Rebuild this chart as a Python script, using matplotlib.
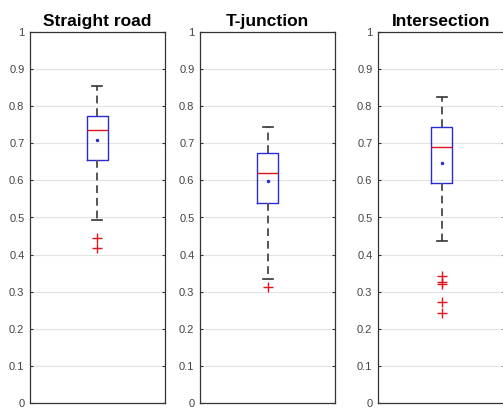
import matplotlib
matplotlib.use("Agg")
import matplotlib.pyplot as plt

plt.rcParams['font.family'] = ['Liberation Sans', 'DejaVu Sans']

titles = ["Straight road", "T-junction", "Intersection"]
whislo = [0.493, 0.333, 0.436]
q1 = [0.655, 0.538, 0.593]
med = [0.737, 0.619, 0.690]
q3 = [0.773, 0.675, 0.744]
whishi = [0.854, 0.744, 0.824]
means = [0.709, 0.598, 0.646]
fliers = [[0.444, 0.417], [0.313], [0.343, 0.327, 0.321, 0.271, 0.243]]
yticks = [0, 0.1, 0.2, 0.3, 0.4, 0.5, 0.6, 0.7, 0.8, 0.9, 1.0]
yticklabels = ["0", "0.1", "0.2", "0.3", "0.4", "0.5", "0.6", "0.7", "0.8", "0.9", "1"]

W, H = 503, 411
fig = plt.figure(figsize=(W / 100, H / 100), dpi=100)

lefts = [30, 200, 378]
widths_px = [135, 135, 127]
top, bottom = 32, 403
box_px, cap_px = 21, 10

for i in range(3):
    ax = fig.add_axes([lefts[i] / W, 1 - bottom / H, widths_px[i] / W, (bottom - top) / H])
    stats = [dict(whislo=whislo[i], q1=q1[i], med=med[i], q3=q3[i],
                  whishi=whishi[i], mean=means[i], fliers=fliers[i])]
    ax.bxp(stats, positions=[0.5], widths=box_px / widths_px[i], showmeans=True,
           boxprops=dict(color='#2b2bd6', linewidth=1.0),
           medianprops=dict(color='#e0141e', linewidth=1.0),
           whiskerprops=dict(color='#555555', linewidth=1.4, linestyle=(0, (4, 2.5))),
           capprops=dict(color='#333333', linewidth=1.2),
           capwidths=cap_px / widths_px[i],
           meanprops=dict(marker='.', markersize=3, markerfacecolor='#2b2bd6',
                          markeredgecolor='#2b2bd6'),
           flierprops=dict(marker='+', markersize=7, markeredgecolor='#e0141e',
                           markeredgewidth=1.0, linestyle='none'))
    ax.set_xlim(0, 1)
    ax.set_ylim(0, 1)
    ax.set_xticks([])
    ax.set_yticks(yticks)
    ax.set_yticklabels(yticklabels)
    ax.yaxis.grid(True, color='#e3e3e3', linewidth=0.8)
    ax.set_axisbelow(True)
    ax.tick_params(axis='y', direction='in', length=2.5, width=0.8, color='#333333',
                   labelsize=8, labelcolor='#444444', right=True, pad=4)
    for sp in ax.spines.values():
        sp.set_color('#333333')
        sp.set_linewidth(0.9)
    ax.set_title(titles[i], fontsize=12.5, fontweight='bold', pad=4)

fig.savefig("out.png", dpi=100)
